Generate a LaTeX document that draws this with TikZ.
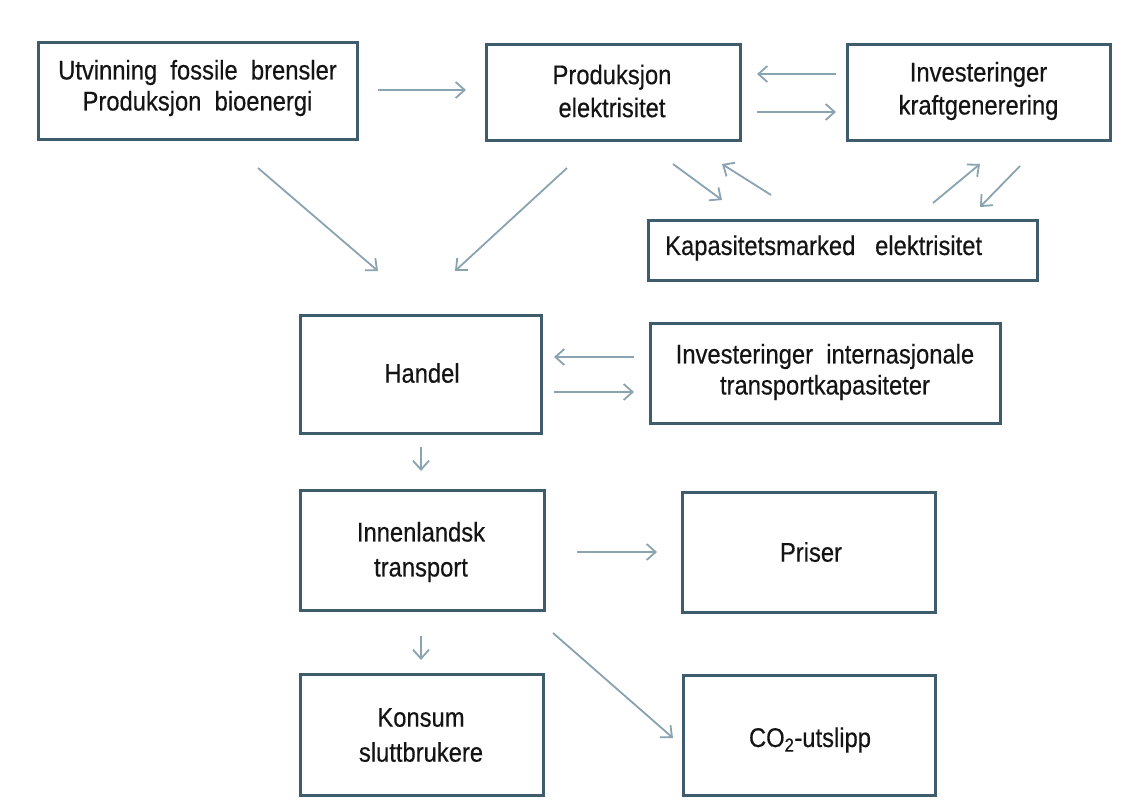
\documentclass[tikz,border=0pt]{standalone}
\usepackage{fontspec}
\setmainfont{Liberation Sans}[FakeStretch=0.88, FakeBold=0.4]
\usetikzlibrary{arrows.meta}
\definecolor{boxline}{HTML}{3E5C6C}
\definecolor{arrline}{HTML}{8AA3B1}
\definecolor{txt}{HTML}{141414}
\tikzset{
  box/.style={draw=boxline, line width=3pt, fill=white, minimum width=#1, inner sep=0pt},
  lbl/.style={text=txt, align=center, font=\fontsize{27}{#1}\selectfont},
  lbl/.default=33,
  conn/.style={draw=arrline, line width=1.8pt, -{Straight Barb[length=9pt,width=16pt,line width=1.8pt]}},
}
\begin{document}
\begin{tikzpicture}[x=1pt,y=-1pt]
\useasboundingbox (0,0) rectangle (1121,804);
% boxes
\node[box=319pt, minimum height=97pt] (b1) at (197.5,90.5) {};
\node[lbl=31] (t1) at (197.5,88) {Utvinning\ \ fossile\ \ brensler\\Produksjon\ \ bioenergi};
\node[box=254pt, minimum height=96pt] (b2) at (613,92) {};
\node[lbl] (t2) at (612,91) {Produksjon\\elektrisitet};
\node[box=263pt, minimum height=96pt] (b3) at (978.5,92) {};
\node[lbl] (t3) at (978.5,91) {Investeringer\\kraftgenerering};
\node[box=389pt, minimum height=60pt] (b4) at (842.5,250) {};
\node[lbl, anchor=west, inner sep=0pt] (t4) at (665,248) {Kapasitetsmarked\ \ \ elektrisitet};
\node[box=241pt, minimum height=118pt] (handel) at (420.5,374) {};
\node[lbl] (th) at (422,373) {Handel};
\node[box=350pt, minimum height=100pt] (intl) at (825,373) {};
\node[lbl=31] (ti) at (825,372) {Investeringer\ \ internasjonale\\transportkapasiteter};
\node[box=244pt, minimum height=120pt] (innen) at (422,550) {};
\node[lbl=35] (tn) at (421,552) {Innenlandsk\\transport};
\node[box=253pt, minimum height=120pt] (priser) at (808.5,552) {};
\node[lbl] (tp) at (811,552) {Priser};
\node[box=243pt, minimum height=121pt] (konsum) at (421.5,734.5) {};
\node[lbl=35] (tk) at (421,735) {Konsum\\sluttbrukere};
\node[box=252pt, minimum height=120pt] (co2) at (809,735) {};
\node[lbl] (tc) at (810,740) {CO\textsubscript{2}-utslipp};
% arrow end points
\coordinate (a1s) at (378,90);  \coordinate (a1e) at (466,90);
\coordinate (a2s) at (836,74);  \coordinate (a2e) at (757,74);
\coordinate (a3s) at (757,112); \coordinate (a3e) at (836,112);
\coordinate (a4s) at (258,168); \coordinate (a4e) at (378,271);
\coordinate (a5s) at (567,168); \coordinate (a5e) at (455,271);
\coordinate (a6s) at (673,164); \coordinate (a6e) at (722,200);
\coordinate (a7s) at (771,195); \coordinate (a7e) at (722,164);
\coordinate (a8s) at (933,203); \coordinate (a8e) at (980,164);
\coordinate (a9s) at (1020,166); \coordinate (a9e) at (980,207);
\coordinate (a10s) at (634,357); \coordinate (a10e) at (554,357);
\coordinate (a11s) at (554,392); \coordinate (a11e) at (634,392);
\coordinate (a12s) at (421,447); \coordinate (a12e) at (421,471);
\coordinate (a13s) at (577,552); \coordinate (a13e) at (657,552);
\coordinate (a14s) at (421,636); \coordinate (a14e) at (421,660);
\coordinate (a15s) at (553,633); \coordinate (a15e) at (673,738);
\foreach \i in {1,...,15} \draw[conn] (a\i s) -- (a\i e);
\end{tikzpicture}
\end{document}
